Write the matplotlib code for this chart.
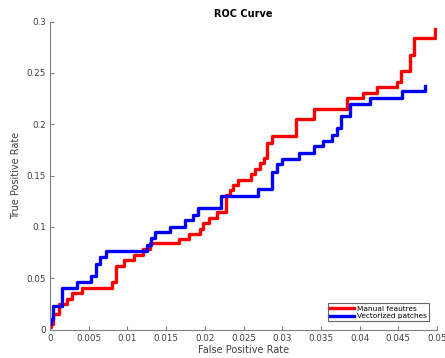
import matplotlib
matplotlib.use("Agg")
import matplotlib.pyplot as plt

red_fpr = [0.0, 0.0001, 0.0004, 0.0011, 0.0022, 0.0028, 0.0041, 0.0080, 0.0085, 0.0096,
           0.0108, 0.0120, 0.0129, 0.0167, 0.0179, 0.0194, 0.0198, 0.0206, 0.0216, 0.0227,
           0.0232, 0.0237, 0.0243, 0.0260, 0.0265, 0.0271, 0.0276, 0.0280, 0.0287, 0.0318,
           0.0341, 0.0384, 0.0405, 0.0422, 0.0448, 0.0454, 0.0465, 0.0470, 0.0497]
red_tpr = [0.002, 0.0055, 0.0147, 0.025, 0.030, 0.0355, 0.0407, 0.0463, 0.0623, 0.0675,
           0.0727, 0.078, 0.0838, 0.0885, 0.0935, 0.098, 0.1039, 0.109, 0.1147, 0.131,
           0.136, 0.1408, 0.1457, 0.151, 0.156, 0.162, 0.167, 0.182, 0.188, 0.205,
           0.215, 0.2255, 0.2307, 0.236, 0.241, 0.252, 0.267, 0.2835, 0.293]

blue_fpr = [0.0, 0.0001, 0.0004, 0.0016, 0.0035, 0.0053, 0.0059, 0.0065, 0.0072, 0.0125,
            0.0131, 0.0136, 0.0155, 0.0174, 0.0185, 0.0191, 0.0221, 0.0269, 0.0287, 0.0293,
            0.0300, 0.0322, 0.0341, 0.0353, 0.0364, 0.0371, 0.0376, 0.0388, 0.0413, 0.0455,
            0.0485]
blue_tpr = [0.0055, 0.0105, 0.0225, 0.0407, 0.046, 0.0524, 0.064, 0.0707, 0.0766, 0.082,
            0.089, 0.0945, 0.100, 0.1066, 0.112, 0.1186, 0.130, 0.1365, 0.1538, 0.161,
            0.166, 0.1723, 0.1789, 0.184, 0.1896, 0.196, 0.208, 0.220, 0.2258, 0.2326,
            0.2375]

series_labels = ["Manual feautres", "Vectorized patches"]
xticks = [0, 0.005, 0.01, 0.015, 0.02, 0.025, 0.03, 0.035, 0.04, 0.045, 0.05]
xticklabels = ["0", "0.005", "0.01", "0.015", "0.02", "0.025", "0.03", "0.035", "0.04", "0.045", "0.05"]
yticks = [0, 0.05, 0.1, 0.15, 0.2, 0.25, 0.3]
yticklabels = ["0", "0.05", "0.1", "0.15", "0.2", "0.25", "0.3"]

plt.rcParams['font.family'] = ['DejaVu Sans']
fig = plt.figure(figsize=(4.45, 3.58), dpi=100)
ax = fig.add_axes([50/445, 1 - 329.5/358, 387/445, 308/358])

ax.plot(red_fpr, red_tpr, drawstyle='steps-post', color='#ff0000', lw=2.4, label=series_labels[0])
ax.plot(blue_fpr, blue_tpr, drawstyle='steps-post', color='#0000ff', lw=2.4, label=series_labels[1])

ax.set_xlim(0, 0.05)
ax.set_ylim(0, 0.3)
ax.set_xticks(xticks)
ax.set_xticklabels(xticklabels)
ax.set_yticks(yticks)
ax.set_yticklabels(yticklabels)

gray = '#404040'
for s in ['top', 'right']:
    ax.spines[s].set_visible(False)
for s in ['left', 'bottom']:
    ax.spines[s].set_color('#808080')
    ax.spines[s].set_linewidth(0.8)
ax.tick_params(direction='in', length=3, width=0.8, color='#808080', labelcolor=gray, labelsize=6.3, pad=3)

ax.set_xlabel('False Positive Rate', fontsize=7, color=gray, labelpad=2)
ax.set_ylabel('True Positive Rate', fontsize=7, color=gray, labelpad=4)
ax.set_title('ROC Curve', fontsize=7, fontweight='bold', pad=3.5)

leg = ax.legend(loc='lower right', fontsize=5.3, frameon=True, fancybox=False,
                edgecolor='#404040', handlelength=3.2, handletextpad=0.4,
                borderpad=0.3, labelspacing=0.2, borderaxespad=1.1)
leg.get_frame().set_linewidth(0.8)

fig.savefig('out.png', dpi=100)
